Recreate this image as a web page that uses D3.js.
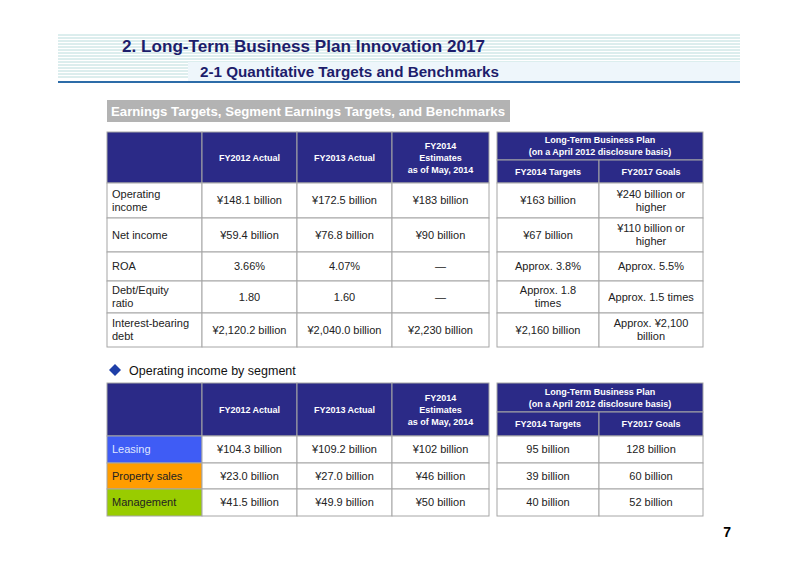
<!DOCTYPE html><html><head><meta charset="utf-8"><script src="https://cdn.jsdelivr.net/npm/d3@7"></script>
<style>body{margin:0;background:#fff}</style></head><body><svg id="c" width="800" height="566"></svg>
<script>
const colHeaders=["FY2012 Actual","FY2013 Actual","FY2014\nEstimates\nas of May, 2014"];
const planHeader="Long-Term Business Plan\n(on a April 2012 disclosure basis)";
const planCols=["FY2014 Targets","FY2017 Goals"];
const rowLabels1=["Operating\nincome","Net income","ROA","Debt/Equity\nratio","Interest-bearing\ndebt"];
const fy2012=["¥148.1 billion","¥59.4 billion","3.66%","1.80","¥2,120.2 billion"];
const fy2013=["¥172.5 billion","¥76.8 billion","4.07%","1.60","¥2,040.0 billion"];
const fy2014e=["¥183 billion","¥90 billion","—","—","¥2,230 billion"];
const fy2014t=["¥163 billion","¥67 billion","Approx. 3.8%","Approx. 1.8\ntimes","¥2,160 billion"];
const fy2017g=["¥240 billion or\nhigher","¥110 billion or\nhigher","Approx. 5.5%","Approx. 1.5 times","Approx. ¥2,100\nbillion"];
const segLabels=["Leasing","Property sales","Management"];
const segColors=["#3f5cf5","#ff9d00","#99cc00"];
const seg2012=["¥104.3 billion","¥23.0 billion","¥41.5 billion"];
const seg2013=["¥109.2 billion","¥27.0 billion","¥49.9 billion"];
const seg2014e=["¥102 billion","¥46 billion","¥50 billion"];
const seg2014t=["95 billion","39 billion","40 billion"];
const seg2017g=["128 billion","60 billion","52 billion"];

const svg=d3.select("#c"), F="Liberation Sans, Arial, sans-serif", NAVY="#2b2a87", GRID="#a6a6a6";
const stripes=d3.range(35,80,3);
svg.selectAll("line.s").data(stripes).join("line").attr("x1",58).attr("x2",740).attr("y1",d=>d).attr("y2",d=>d).attr("stroke","#b9dcdc").attr("stroke-width",1);
svg.append("rect").attr("x",188).attr("y",62).attr("width",552).attr("height",19).attr("fill","#eef6fb");
svg.append("rect").attr("x",58).attr("y",81).attr("width",682).attr("height",2).attr("fill","#2d6ca8");
svg.append("text").attr("x",122).attr("y",52).text("2. Long-Term Business Plan Innovation 2017").attr("font-family",F).attr("font-size",17).attr("font-weight","bold").attr("fill","#1d1d6b").attr("textLength",363).attr("lengthAdjust","spacingAndGlyphs");
svg.append("text").attr("x",200).attr("y",77).text("2-1 Quantitative Targets and Benchmarks").attr("font-family",F).attr("font-size",14.5).attr("font-weight","bold").attr("fill","#1d1d6b").attr("textLength",299).attr("lengthAdjust","spacingAndGlyphs");
svg.append("rect").attr("x",107).attr("y",100).attr("width",403).attr("height",22).attr("fill","#b3b3b3");
svg.append("text").attr("x",111).attr("y",116).text("Earnings Targets, Segment Earnings Targets, and Benchmarks").attr("font-family",F).attr("font-size",13).attr("font-weight","bold").attr("fill","#fff").attr("textLength",394).attr("lengthAdjust","spacingAndGlyphs");

function mtext(x,y,s,opt){
  const lines=s.split("\n"), lh=opt.lh||13;
  const t=svg.append("text").attr("font-family",F).attr("font-size",opt.fs||11).attr("fill",opt.fill||"#222").attr("text-anchor",opt.anchor||"middle").attr("font-weight",opt.bold?"bold":"normal");
  lines.forEach((l,i)=>t.append("tspan").attr("x",x).attr("y",y+(i-(lines.length-1)/2)*lh+opt.fs*0.36).text(l));
}
function cell(x0,x1,y0,y1,fill){svg.append("rect").attr("x",x0).attr("y",y0).attr("width",x1-x0).attr("height",y1-y0).attr("fill",fill).attr("stroke",GRID).attr("stroke-width",1);}

function table(top,split,hb,rowEdges,labels,cols,rcols,labelFill){
  const lx=[107,202,297,392,489], rx=[497,599,703];
  for(let i=0;i<4;i++) cell(lx[i],lx[i+1],top,hb,NAVY);
  colHeaders.forEach((h,i)=>mtext((lx[i+1]+lx[i+2])/2,(top+hb)/2,h,{fs:9,bold:true,fill:"#fff",lh:12}));
  cell(rx[0],rx[2],top,split,NAVY);
  mtext((rx[0]+rx[2])/2,(top+split)/2,planHeader,{fs:9,bold:true,fill:"#fff",lh:12});
  planCols.forEach((h,i)=>{cell(rx[i],rx[i+1],split,hb,NAVY);mtext((rx[i]+rx[i+1])/2,(split+hb)/2,h,{fs:9,bold:true,fill:"#fff"});});
  labels.forEach((lab,r)=>{
    const y0=rowEdges[r],y1=rowEdges[r+1],ym=(y0+y1)/2;
    cell(lx[0],lx[1],y0,y1,labelFill?labelFill[r]:"#fff");
    mtext(112,ym,lab,{fs:11,anchor:"start",fill:labelFill&&r==0?"#dfe6ff":"#222"});
    cols.forEach((c,i)=>{cell(lx[i+1],lx[i+2],y0,y1,"#fff");mtext((lx[i+1]+lx[i+2])/2,ym,c[r],{fs:11});});
    rcols.forEach((c,i)=>{cell(rx[i],rx[i+1],y0,y1,"#fff");mtext((rx[i]+rx[i+1])/2,ym,c[r],{fs:11});});
  });
}
table(132,160,183,[183,218,252,281,313,347],rowLabels1,[fy2012,fy2013,fy2014e],[fy2014t,fy2017g],null);
svg.append("path").attr("d","M115,364 L121,370 L115,376 L109,370 Z").attr("fill","#1f3fa8");
svg.append("text").attr("x",129).attr("y",375).text("Operating income by segment").attr("font-family",F).attr("font-size",12.5).attr("fill","#111");
table(383,412,436,[436,463,489,516],segLabels,[seg2012,seg2013,seg2014e],[seg2014t,seg2017g],segColors);
svg.append("text").attr("x",731).attr("y",537).attr("text-anchor","end").text("7").attr("font-family",F).attr("font-size",14).attr("font-weight","bold");
</script></body></html>
